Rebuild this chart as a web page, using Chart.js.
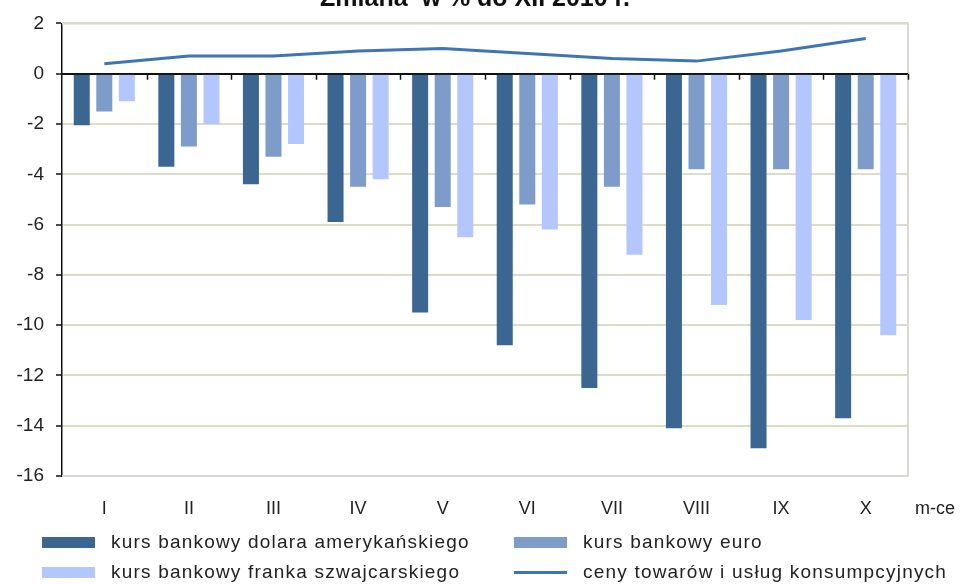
<!DOCTYPE html>
<html>
<head>
<meta charset="utf-8">
<script src="https://cdn.jsdelivr.net/npm/chart.js@4.4.1/dist/chart.umd.min.js"></script>
<style>
  html, body { margin: 0; padding: 0; background: #fff; }
  #wrap { position: relative; width: 965px; height: 584px; overflow: hidden; }
  #chart { position: absolute; left: 0; top: 0; }
  .leg { position: absolute; font-family: "Liberation Sans", Arial, sans-serif; font-size: 19px;
         letter-spacing: 1.2px; color: #222; white-space: nowrap; line-height: 20px; }
  .leg i { position: absolute; display: block; }
</style>
</head>
<body>
<div id="wrap">
  <canvas id="chart" width="965" height="584"></canvas>
  <div id="legend"></div>
</div>
<script>
/* Zmiana w % do XII 2010 r. */
const months = ['I', 'II', 'III', 'IV', 'V', 'VI', 'VII', 'VIII', 'IX', 'X'];
const usd = [-2.05, -3.7, -4.4, -5.9, -9.5, -10.8, -12.5, -14.1, -14.9, -13.7];
const eur = [-1.5, -2.9, -3.3, -4.5, -5.3, -5.2, -4.5, -3.8, -3.8, -3.8];
const chf = [-1.1, -2.0, -2.8, -4.2, -6.5, -6.2, -7.2, -9.2, -9.8, -10.4];
const cpi = [0.4, 0.7, 0.7, 0.9, 1.0, 0.8, 0.6, 0.5, 0.9, 1.4];
const yTicks = [2, 0, -2, -4, -6, -8, -10, -12, -14, -16];

const FONT = '"Liberation Sans", Arial, sans-serif';
const gridBeige = '#dedbc6';

// ramka, oś zerowa i znaczniki kategorii
const framePlugin = {
    id: 'frame',
    beforeDatasetsDraw(chart) {
        const { ctx, chartArea: a } = chart;
        ctx.save();
        ctx.strokeStyle = '#d9d9d6';
        ctx.lineWidth = 2;
        ctx.beginPath();
        ctx.moveTo(a.left, a.top);
        ctx.lineTo(a.right, a.top);
        ctx.lineTo(a.right, a.bottom);
        ctx.lineTo(a.left, a.bottom);
        ctx.stroke();
        ctx.restore();
    },
    afterDatasetsDraw(chart) {
        const { ctx, chartArea: a } = chart;
        const y0 = chart.scales.y.getPixelForValue(0);
        const step = (a.right - a.left) / months.length;
        ctx.save();
        ctx.strokeStyle = '#111';
        ctx.lineWidth = 1.5;
        ctx.beginPath();
        ctx.moveTo(a.left, y0);
        ctx.lineTo(a.right, y0);
        for (let i = 1; i <= months.length; i++) {
            const x = Math.round(a.left + i * step) + 0.5;
            ctx.moveTo(x, y0);
            ctx.lineTo(x, y0 + 6);
        }
        ctx.stroke();
        ctx.restore();
    },
    afterDraw(chart) {
        const { ctx } = chart;
        ctx.save();
        ctx.fillStyle = '#111';
        ctx.font = 'bold 25px ' + FONT;
        ctx.textAlign = 'center';
        ctx.fillText('Zmiana  w % do XII 2010 r.', 475, 5.5);
        ctx.font = '18px ' + FONT;
        ctx.fillStyle = '#222';
        ctx.textAlign = 'left';
        ctx.textBaseline = 'middle';
        ctx.fillText('m-ce', 915, 509);
        ctx.restore();
    }
};

const chart = new Chart(document.getElementById('chart'), {
    type: 'bar',
    data: {
        labels: months,
        datasets: [
            { label: 'kurs bankowy dolara amerykańskiego', data: usd, backgroundColor: '#3c6692', order: 1 },
            { label: 'kurs bankowy euro', data: eur, backgroundColor: '#7e9cc9', order: 1 },
            { label: 'kurs bankowy franka szwajcarskiego', data: chf, backgroundColor: '#b4c6fe', order: 1 },
            { label: 'ceny towarów i usług konsumpcyjnych', data: cpi, type: 'line', borderColor: '#3e76b3',
              backgroundColor: '#3e76b3', borderWidth: 3, pointRadius: 0, tension: 0, order: 0 }
        ]
    },
    options: {
        responsive: false,
        animation: false,
        layout: { padding: { top: 22, right: 57, bottom: 68, left: 0 } },
        datasets: { bar: { categoryPercentage: 0.8, barPercentage: 0.71 } },
        plugins: { legend: { display: false }, tooltip: { enabled: false } },
        scales: {
            x: {
                offset: true,
                grid: { display: false },
                border: { display: false },
                ticks: { color: '#222', font: { family: FONT, size: 18 }, padding: 14 },
                afterFit(s) { s.height = 40; }
            },
            y: {
                min: -16,
                max: 2,
                afterBuildTicks(s) { s.ticks = yTicks.map(v => ({ value: v })); },
                ticks: { color: '#222', font: { family: FONT, size: 19 }, padding: 12 },
                grid: {
                    color: c => c.tick && c.tick.value === 0 ? '#111' : gridBeige,
                    lineWidth: 2,
                    tickColor: '#111',
                    tickLength: 6,
                    tickWidth: 1.5
                },
                border: { color: '#111', width: 1.5 },
                afterFit(s) { s.width = 62; }
            }
        }
    },
    plugins: [framePlugin]
});

// legenda w dwóch kolumnach
const legend = document.getElementById('legend');
const slots = [[42, 532], [514, 532], [42, 562], [514, 562]];
chart.data.datasets.forEach((ds, i) => {
    const [x, y] = slots[i];
    const el = document.createElement('div');
    el.className = 'leg';
    el.style.left = (x + 69) + 'px';
    el.style.top = y + 'px';
    el.textContent = ds.label;
    const mark = document.createElement('i');
    if (ds.type === 'line') {
        mark.style.cssText = 'left:-69px;top:9px;width:53px;height:3px;background:' + ds.borderColor;
    } else {
        mark.style.cssText = 'left:-69px;top:5px;width:53px;height:11px;background:' + ds.backgroundColor;
    }
    el.appendChild(mark);
    legend.appendChild(el);
});
</script>
</body>
</html>
